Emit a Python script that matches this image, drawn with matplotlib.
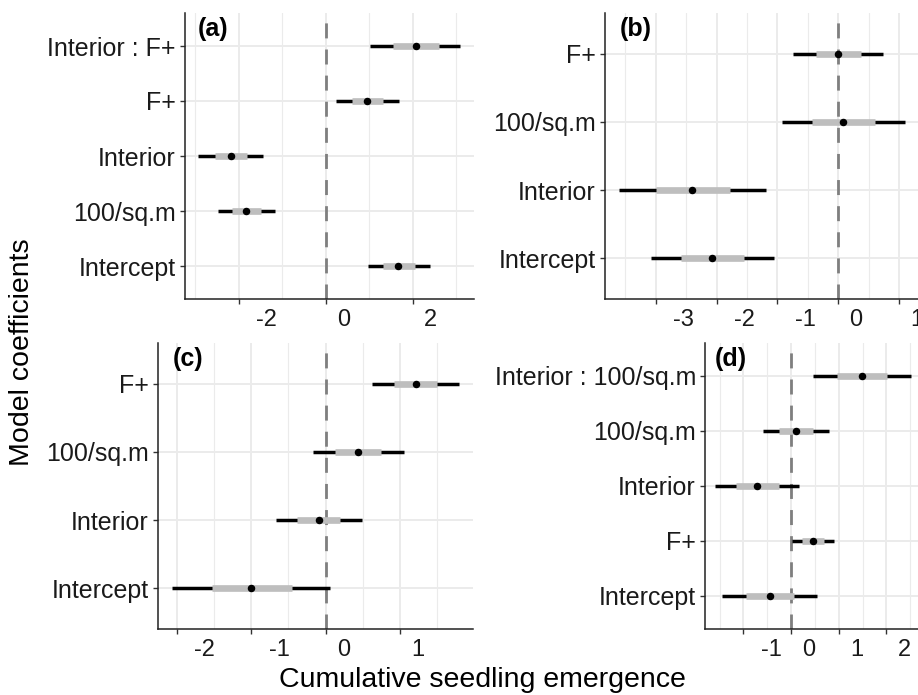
import matplotlib
matplotlib.use("Agg")
import matplotlib.pyplot as plt
import matplotlib.transforms as mtransforms
import numpy as np

plt.rcParams['font.family'] = ['Liberation Sans', 'DejaVu Sans']

# ---------------- data ----------------
cats_a = ["Interior : F+", "F+", "Interior", "100/sq.m", "Intercept"]
est_a = [2.07, 0.96, -2.18, -1.82, 1.67]
lo50_a = [1.55, 0.61, -2.55, -2.16, 1.32]
hi50_a = [2.60, 1.33, -1.80, -1.48, 2.05]
lo95_a = [1.03, 0.25, -2.93, -2.47, 0.97]
hi95_a = [3.10, 1.69, -1.43, -1.16, 2.40]
ticks_a = [-2, 0, 2]

cats_b = ["F+", "100/sq.m", "Interior", "Intercept"]
est_b = [-0.01, 0.08, -2.40, -2.07]
lo50_b = [-0.37, -0.43, -3.00, -2.58]
hi50_b = [0.38, 0.60, -1.78, -1.55]
lo95_b = [-0.74, -0.93, -3.60, -3.08]
hi95_b = [0.74, 1.10, -1.18, -1.06]
ticks_b = [-3, -2, -1, 0, 1]

cats_c = ["F+", "100/sq.m", "Interior", "Intercept"]
est_c = [1.21, 0.44, -0.09, -1.00]
lo50_c = [0.92, 0.13, -0.39, -1.53]
hi50_c = [1.50, 0.75, 0.20, -0.45]
lo95_c = [0.63, -0.17, -0.67, -2.06]
hi95_c = [1.79, 1.05, 0.49, 0.06]
ticks_c = [-2, -1, 0, 1]

cats_d = ["Interior : 100/sq.m", "100/sq.m", "Interior", "F+", "Intercept"]
est_d = [1.48, 0.11, -0.72, 0.46, -0.45]
lo50_d = [0.97, -0.25, -1.16, 0.23, -0.95]
hi50_d = [2.01, 0.46, -0.26, 0.69, 0.06]
lo95_d = [0.46, -0.59, -1.60, 0.02, -1.44]
hi95_d = [2.51, 0.80, 0.17, 0.90, 0.55]
ticks_d = [-1, 0, 1, 2]

tags = ["(a)", "(b)", "(c)", "(d)"]

# ---------------- layout (pixels) ----------------
W, H = 918, 695
fig = plt.figure(figsize=(W / 100, H / 100), dpi=100)

boxes = [(185, 473.5, 13, 299), (605, 919.3, 13, 299),
         (158, 473, 343, 629), (705, 920.5, 343, 629)]

panels = [
    (cats_a, est_a, lo50_a, hi50_a, lo95_a, hi95_a, ticks_a),
    (cats_b, est_b, lo50_b, hi50_b, lo95_b, hi95_b, ticks_b),
    (cats_c, est_c, lo50_c, hi50_c, lo95_c, hi95_c, ticks_c),
    (cats_d, est_d, lo50_d, hi50_d, lo95_d, hi95_d, ticks_d),
]

GRID = "#EBEBEB"
for (l, r, t, b), (cats, est, lo50, hi50, lo95, hi95, ticks), tag in zip(boxes, panels, tags):
    ax = fig.add_axes([l / W, 1 - b / H, (r - l) / W, (b - t) / H])
    n = len(cats)
    ypos = np.arange(n, 0, -1)
    xmin, xmax = min(lo95), max(hi95)
    pad = 0.05 * (xmax - xmin)
    ax.set_xlim(xmin - pad, xmax + pad)
    ax.set_ylim(0.4, n + 0.6)

    # grid
    step = ticks[1] - ticks[0]
    minors = np.arange(ticks[0] - step / 2, xmax + pad + step, step)
    for m in minors:
        ax.axvline(m, color=GRID, lw=0.8, zorder=0)
    for tk in ticks:
        ax.axvline(tk, color=GRID, lw=1.4, zorder=0)
    for yv in ypos:
        ax.axhline(yv, color=GRID, lw=1.4, zorder=0)

    # reference line
    ax.axvline(0, color="#7F7F7F", lw=2.0, ls=(0, (5.4, 4.0)), zorder=1)

    # intervals
    ax.hlines(ypos, lo95, hi95, color="black", lw=2.5, capstyle="butt", zorder=2)
    ax.hlines(ypos, lo50, hi50, color="#BEBEBE", lw=4.8, capstyle="butt", zorder=3)
    ax.plot(est, ypos, "o", color="black", ms=4.4, zorder=4)

    ax.set_yticks(ypos)
    ax.set_yticklabels(cats, fontsize=18, color="#1A1A1A")
    ax.set_xticks(ticks)
    ax.set_xticklabels([str(tk) for tk in ticks], fontsize=17, color="#1A1A1A")
    ax.tick_params(axis="both", length=3.5, width=1.0, color="#333333")
    ax.tick_params(axis="y", pad=3)
    ax.tick_params(axis="x", pad=3.5)

    for lab, tk in zip(ax.get_xticklabels(), ticks):
        dx = 28 if tk < 0 else 18
        lab.set_transform(lab.get_transform() +
                          mtransforms.ScaledTranslation(dx / 100, 0, fig.dpi_scale_trans))

    for s in ["top", "right"]:
        ax.spines[s].set_visible(False)
    for s in ["left", "bottom"]:
        ax.spines[s].set_linewidth(1.1)
        ax.spines[s].set_color("#222222")

    trans = mtransforms.blended_transform_factory(ax.transData, ax.transAxes)
    ax.text(xmin, 1 - 16 / (b - t), tag, transform=trans, ha="left", va="center",
            fontsize=18, fontweight="bold")

fig.text(22 / W, 1 - 352 / H, "Model coefficients", rotation=90,
         ha="center", va="center", fontsize=20.5)
fig.text(482.5 / W, 1 - 687 / H, "Cumulative seedling emergence",
         ha="center", va="baseline", fontsize=20.5)

fig.savefig("out.png", dpi=100)
